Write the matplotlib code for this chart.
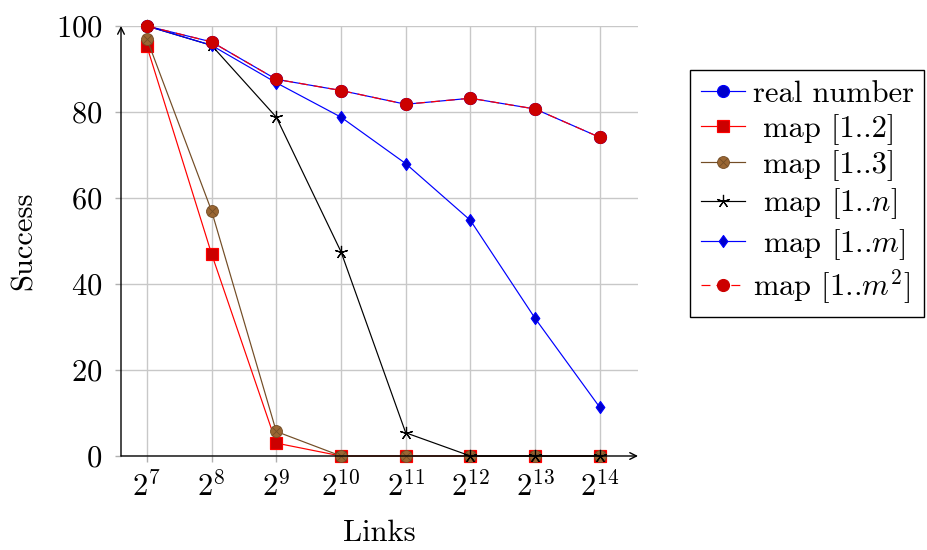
import matplotlib
matplotlib.use("Agg")
import matplotlib.pyplot as plt
from matplotlib.path import Path

plt.rcParams["font.family"] = "serif"
plt.rcParams["font.serif"] = ["cmr10", "DejaVu Serif"]
plt.rcParams["mathtext.fontset"] = "cm"
plt.rcParams["axes.formatter.use_mathtext"] = True

# Data: success rate versus number of links (log2 scale)
exponents = [7, 8, 9, 10, 11, 12, 13, 14]
tick_labels = [r"$2^{%d}$" % e for e in exponents]

real_number = [100, 96.3, 87.6, 85.0, 81.8, 83.2, 80.7, 74.1]
map_2 = [95.3, 47.0, 3.0, 0, 0, 0, 0, 0]
map_3 = [97.0, 57.0, 5.7, 0, 0, 0, 0, 0]
map_n = [100, 95.5, 78.8, 47.5, 5.4, 0, 0, 0]
map_m = [100, 95.5, 86.8, 78.8, 68.0, 54.8, 32.0, 11.3]
map_m2 = [100, 96.3, 87.6, 85.0, 81.8, 83.2, 80.7, 74.1]

labels = ["real number", " map [1..2]", " map [1..3]", r" map [1..$n$]",
          r" map [1..$m$]", r"map [1..$m^2$]"]

FS = 22
LW = 0.86

# circle with a cross inside
r = 0.7071
otimes = Path.make_compound_path(
    Path.unit_circle(),
    Path([(-r, -r), (r, r)], [Path.MOVETO, Path.LINETO]),
    Path([(-r, r), (r, -r)], [Path.MOVETO, Path.LINETO]),
)
thin_diamond = Path([(0, 1), (0.72, 0), (0, -1), (-0.72, 0), (0, 1)],
                    [Path.MOVETO, Path.LINETO, Path.LINETO, Path.LINETO, Path.CLOSEPOLY])

fig = plt.figure(figsize=(9.27, 5.5), dpi=100)
ax = fig.add_axes([121 / 927, 1 - 456 / 550, (638 - 121) / 927, (456 - 26) / 550])

brown = (0.45, 0.3, 0.15)
brown_fill = (0.6, 0.4, 0.2)

styles = [
    dict(color="blue", marker="o", ms=8.6, mfc=(0, 0, 0.8), mec="blue"),
    dict(color="red", marker="s", ms=8.2, mfc=(0.8, 0, 0), mec="red"),
    dict(color=brown, marker=otimes, ms=8.6, mfc=brown_fill, mec=brown, mew=0.6),
    dict(color="black", marker=(5, 2, 0), ms=9.5),
    dict(color="blue", marker=thin_diamond, ms=8.6, mfc=(0, 0, 0.8), mec="blue"),
    dict(color="red", marker="o", ms=8.6, mfc=(0.8, 0, 0), mec=(0.8, 0, 0),
         linestyle=(0, (7.5, 5))),
]
series = [real_number, map_2, map_3, map_n, map_m, map_m2]

handles = []
for ys, lab, st in zip(series, labels, styles):
    st = dict(st)
    st.setdefault("mew", LW)
    h, = ax.plot(exponents, ys, lw=LW, label=lab, clip_on=False, zorder=3, **st)
    handles.append(h)

ax.set_xlim(6.6, 14.59)
ax.set_ylim(0, 100)
ax.set_xticks(exponents)
ax.set_xticklabels(tick_labels)
ax.set_yticks([0, 20, 40, 60, 80, 100])
ax.grid(True, color="#c8c8c8", lw=1.0)
ax.set_axisbelow(True)
ax.tick_params(axis="both", direction="out", length=4.5, width=1.0,
               color="#b0b0b0", labelsize=FS)
ax.tick_params(axis="x", pad=6)
ax.tick_params(axis="y", pad=9)

for s in ax.spines.values():
    s.set_visible(False)
# axis lines with arrow heads
ax.annotate("", xy=(1, 0), xytext=(0, 0), xycoords="axes fraction",
            arrowprops=dict(arrowstyle="->", lw=1.0, color="black",
                            shrinkA=0, shrinkB=0, mutation_scale=12))
ax.annotate("", xy=(0, 1), xytext=(0, 0), xycoords="axes fraction",
            arrowprops=dict(arrowstyle="->", lw=1.0, color="black",
                            shrinkA=0, shrinkB=0, mutation_scale=12))

ax.set_xlabel("Links", fontsize=FS, labelpad=13)
ax.set_ylabel("Success", fontsize=FS, labelpad=13)

leg = ax.legend(handles=handles, loc="upper left",
                bbox_to_anchor=(690 / 927, 1 - 70 / 550),
                bbox_transform=fig.transFigure, borderaxespad=0,
                fontsize=FS, numpoints=1, handlelength=1.45,
                handletextpad=0.25, labelspacing=0.18, borderpad=0.35,
                fancybox=False, framealpha=1, edgecolor="black")
leg.get_frame().set_linewidth(1.0)

fig.savefig("out.png", dpi=100)
